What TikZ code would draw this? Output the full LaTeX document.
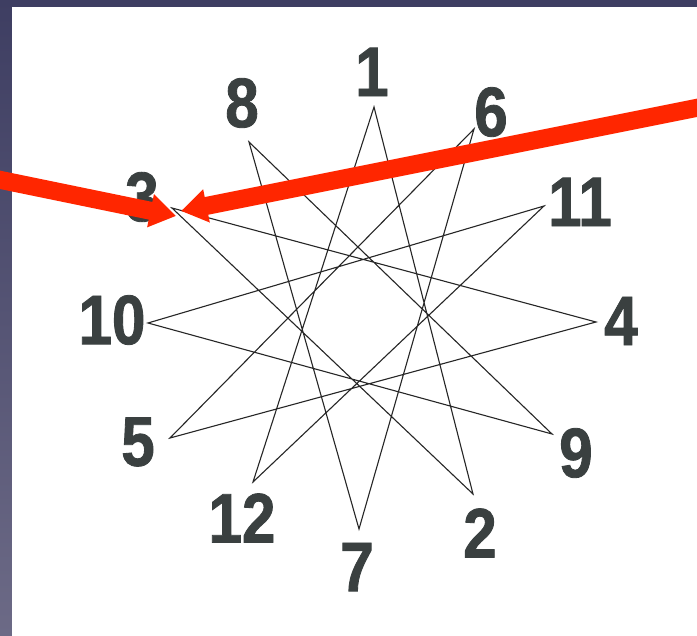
\documentclass[tikz,border=0pt]{standalone}
\usepackage{fontspec}
\usetikzlibrary{arrows.meta}
\newfontfamily\numfont{Liberation Sans}[FakeStretch=0.86, FakeBold=1.2]
\definecolor{slidebg}{RGB}{62,62,98}
\definecolor{slidebgb}{RGB}{108,106,134}
\definecolor{numgray}{RGB}{58,64,64}
\definecolor{pointred}{RGB}{255,38,0}
\tikzset{
  num/.style={inner sep=0pt, text=numgray, font=\numfont\bfseries\fontsize{70}{70}\selectfont},
  starline/.style={draw=black!85, line width=1.1pt, line join=miter},
  pointer/.style={pointred, line width=18pt, -{Triangle[length=26pt,width=32pt]}}
}
\begin{document}
\begin{tikzpicture}[x=1pt, y=-1pt]
        % Frame
        \useasboundingbox (0,0) rectangle (697,636);
        \shade[top color=slidebg, bottom color=slidebgb] (0,0) rectangle (697,636);
        \fill[white] (12,7) rectangle (697,636);

        % Star points
        \coordinate (v1) at (374,107);
        \coordinate (v2) at (473,494);
        \coordinate (v3) at (172,208);
        \coordinate (v4) at (596,322);
        \coordinate (v5) at (170,438);
        \coordinate (v6) at (474,129);
        \coordinate (v7) at (359,529);
        \coordinate (v8) at (249,142);
        \coordinate (v9) at (552,434);
        \coordinate (v10) at (148,323);
        \coordinate (v11) at (544,206);
        \coordinate (v12) at (253,482);

        % Star
        \draw[starline] (v1) -- (v2) -- (v3) -- (v4) -- (v5) -- (v6) -- (v7)
            -- (v8) -- (v9) -- (v10) -- (v11) -- (v12) -- cycle;

        % Labels
        \node[num] (n1) at (372,72) {1};
        \node[num] (n2) at (480,533) {2};
        \node[num] (n3) at (142,197) {3};
        \node[num] (n4) at (621,321) {4};
        \node[num] (n5) at (138,442) {5};
        \node[num] (n6) at (491,112) {6};
        \node[num] (n7) at (357,567) {7};
        \node[num] (n8) at (242,103) {8};
        \node[num] (n9) at (576,453) {9};
        \node[num] (n10) at (112,320) {10};
        \node[num] (n11) at (580,202) {11};
        \node[num] (n12) at (242,518) {12};

        % Pointers
        \coordinate (leftend) at (-4,179);
        \coordinate (rightend) at (701,107);
        \coordinate (lefttip) at (176,216);
        \coordinate (righttip) at (181,211);
        \draw[pointer] (leftend) -- (lefttip);
        \draw[pointer] (rightend) -- (righttip);
    \end{tikzpicture}
\end{document}
